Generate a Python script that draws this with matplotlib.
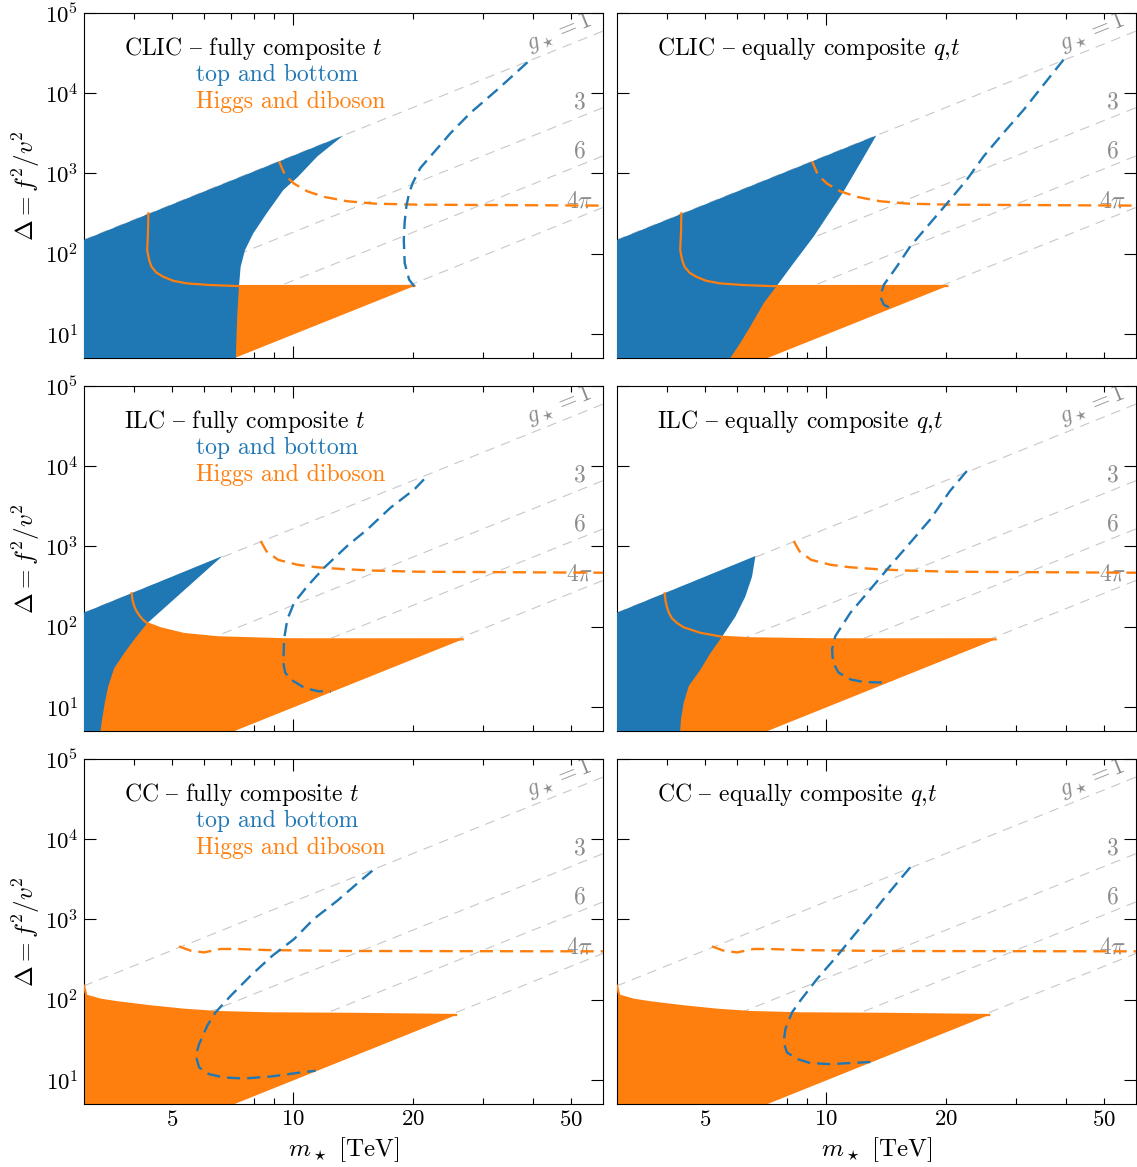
import numpy as np
import matplotlib
matplotlib.use('Agg')
import matplotlib.pyplot as plt
from matplotlib.ticker import FixedLocator, FuncFormatter, NullLocator

plt.rcParams['font.family'] = ['cmr10', 'DejaVu Serif']
plt.rcParams['mathtext.fontset'] = 'cm'
plt.rcParams['axes.formatter.use_mathtext'] = True
plt.rcParams['lines.scale_dashes'] = False

BLUE = '#1f77b4'
ORANGE = '#ff7f0e'
GRID_GREY = '#c8c8c8'
LABEL_GREY = '#8c8c8c'

# reference lines Delta = (m*/(g* v))^2
V_EW = 0.246  # TeV
G_STAR = [1, 3, 6, 4 * np.pi]

# ---- values, (m* [TeV], Delta) ----
# CLIC, fully composite t
CLIC_T_TB = [(2.5, 103), (13.4, 2968), (11.54, 1633), (10.3, 900), (9.48, 621),
             (8.61, 318), (7.97, 179), (7.60, 111), (7.41, 68.7), (7.34, 39.4),
             (7.27, 18.2), (7.22, 7.0), (7.2, 4.0), (2.5, 4.0)]
CLIC_HD_EDGE = [(4.35, 318), (4.34, 179), (4.32, 111), (4.37, 83), (4.43, 68.7),
                (4.56, 57.8), (4.74, 51.5), (5.02, 45.9), (5.43, 42.6), (6.21, 40.6),
                (7.31, 39.4), (20.2, 39.5)]
CLIC_HD_TAIL = [(6.4, 4.0), (2.5, 4.0), (2.5, 60)]
CLIC_T_TB_DASH = [(38.8, 24300), (32.6, 11070), (27.9, 5670), (24.9, 3190),
                  (22.2, 1650), (20.9, 1167), (20.0, 759), (19.6, 570), (19.3, 400),
                  (19.1, 250), (19.0, 149), (19.1, 76.4), (19.6, 47.3), (20.2, 39)]
CLIC_HD_DASH = [(9.25, 1414), (9.58, 946), (10.09, 745), (10.9, 597), (12.0, 510),
                (13.7, 450), (16.1, 420), (20.5, 408), (60.4, 397)]
# CLIC, equally composite q,t
CLIC_QT_TB = [(2.5, 103), (13.4, 2968), (12.22, 1348), (11.1, 597), (10.09, 292),
              (9.34, 164), (8.32, 76.4), (7.55, 39.8), (7.0, 24.2), (6.48, 12.4),
              (6.11, 7.67), (5.77, 4.99), (5.7, 4.0), (2.5, 4.0)]
CLIC_QT_TB_DASH = [(39.5, 26200), (35.2, 12770), (31.4, 6240), (27.9, 3190),
                   (24.9, 1633), (22.6, 836), (20.2, 428), (18.3, 241),
                   (16.3, 123), (15.1, 69.4), (14.0, 41), (13.7, 29.3),
                   (14.0, 23.1), (14.7, 20.4)]
# ILC, fully composite t
ILC_T_TB = [(2.5, 103), (6.67, 759), (4.32, 110), (4.0, 68.1), (3.78, 46.4),
            (3.57, 30.2), (3.45, 18.0), (3.38, 11.0), (3.33, 7.0), (3.30, 5.0),
            (3.29, 4.0), (2.5, 4.0)]
ILC_T_HD_EDGE = [(3.95, 260), (3.97, 215), (4.0, 186), (4.05, 160), (4.12, 140),
                 (4.21, 123), (4.32, 110), (4.67, 95.3), (5.34, 80.9), (6.48, 73.6),
                 (9.52, 69.5), (14.0, 69.3), (26.7, 69.5)]
ILC_HD_TAIL = [(6.4, 4.0), (2.5, 4.0), (2.5, 60)]
ILC_T_TB_DASH = [(21.35, 6860), (20.2, 5150), (17.6, 3040), (15.4, 1633),
                 (13.7, 1012), (12.0, 543), (10.9, 321), (10.09, 199), (9.7, 123),
                 (9.52, 69.4), (9.48, 35.5), (9.58, 26.7), (9.89, 22),
                 (10.7, 17.3), (11.54, 15.7), (12.46, 15.5)]
ILC_HD_DASH = [(8.32, 1167), (8.6, 870), (9.2, 680), (10.3, 590), (11.5, 550),
               (13.5, 520), (16.0, 500), (20.5, 484), (60.4, 470)]
# ILC, equally composite q,t
ILC_QT_TB = [(2.5, 103), (6.67, 759), (6.54, 419), (6.29, 236), (5.94, 133),
             (5.50, 74.8), (5.14, 46.4), (4.85, 28.8), (4.54, 18.2), (4.41, 11.3),
             (4.34, 7.0), (4.32, 5.0), (4.31, 4.0), (2.5, 4.0)]
ILC_QT_HD_EDGE = [(3.95, 260), (3.97, 210), (4.0, 177), (4.05, 148), (4.12, 127),
                  (4.25, 110), (4.41, 98), (4.85, 83.9), (5.50, 74.8), (6.48, 71.5),
                  (9.52, 69.5), (14.0, 69.3), (26.7, 69.5)]
ILC_QT_TB_DASH = [(22.6, 8710), (20.5, 4910), (18.3, 2175), (16.3, 1113),
                  (14.5, 570), (12.95, 292), (11.54, 149), (10.58, 76.4),
                  (10.38, 52), (10.44, 35.5), (10.78, 26.7), (11.54, 22),
                  (12.46, 20.4), (14.26, 20.0)]
# CC (both scenarios share the Higgs/diboson curves)
CC_HD_EDGE = [(3.0, 149), (3.04, 112), (3.3, 99.8), (3.64, 92.5), (4.41, 82.4),
              (5.34, 74.8), (6.48, 70), (8.64, 67.4), (13.98, 66.5), (25.7, 64.3)]
CC_HD_TAIL = [(6.4, 4.0), (2.5, 4.0), (2.5, 149)]
CC_HD_DASH = [(5.19, 461), (5.55, 408), (6.0, 388), (6.6, 428), (7.27, 428),
              (8.64, 415), (13.98, 404), (60.4, 400)]
CC_T_TB_DASH = [(15.85, 4050), (14.8, 3040), (12.95, 1714), (11.3, 1012),
                (10.09, 570), (8.90, 353), (7.85, 199), (7.0, 112), (6.41, 69.4),
                (6.11, 47.3), (5.83, 27.9), (5.72, 20.0), (5.83, 14.3),
                (6.17, 11.8), (6.73, 10.7), (7.55, 10.4), (8.81, 11.0),
                (10.28, 12.2), (11.42, 13.0)]
CC_QT_TB_DASH = [(16.3, 4460), (15.4, 3190), (13.98, 1795), (12.95, 1113),
                 (11.76, 627), (10.7, 353), (9.52, 181), (8.64, 97), (8.24, 69.4),
                 (7.93, 43), (7.85, 29.3), (8.0, 22), (8.48, 18.2), (9.16, 16.2),
                 (10.28, 15.7), (11.54, 16.2), (13.2, 16.8)]

# '{' is the en dash slot in the TeX-encoded cmr10 font
DASH = '{'
panels = [
    ('CLIC %s fully composite $t$' % DASH, True, CLIC_T_TB, CLIC_HD_EDGE, CLIC_HD_TAIL, CLIC_T_TB_DASH, CLIC_HD_DASH),
    ('CLIC %s equally composite $q$,$t$' % DASH, False, CLIC_QT_TB, CLIC_HD_EDGE, CLIC_HD_TAIL, CLIC_QT_TB_DASH, CLIC_HD_DASH),
    ('ILC %s fully composite $t$' % DASH, True, ILC_T_TB, ILC_T_HD_EDGE, ILC_HD_TAIL, ILC_T_TB_DASH, ILC_HD_DASH),
    ('ILC %s equally composite $q$,$t$' % DASH, False, ILC_QT_TB, ILC_QT_HD_EDGE, ILC_HD_TAIL, ILC_QT_TB_DASH, ILC_HD_DASH),
    ('CC %s fully composite $t$' % DASH, True, None, CC_HD_EDGE, CC_HD_TAIL, CC_T_TB_DASH, CC_HD_DASH),
    ('CC %s equally composite $q$,$t$' % DASH, False, None, CC_HD_EDGE, CC_HD_TAIL, CC_QT_TB_DASH, CC_HD_DASH),
]

W, H = 1137, 1167
fig = plt.figure(figsize=(W / 100, H / 100), dpi=100)

col_x = [84, 617]
row_top = [13, 386, 759]
pw, ph = 519, 345

dash_style = (0, (9.5, 5))
fs = 17

for i, (title, legend, tb, hd_edge, hd_tail, tb_dash, hd_dash) in enumerate(panels):
    r, c = divmod(i, 2)
    ax = fig.add_axes([col_x[c] / W, 1 - (row_top[r] + ph) / H, pw / W, ph / H])
    ax.set_xscale('log')
    ax.set_yscale('log')
    ax.set_xlim(3, 60)
    ax.set_ylim(5, 1e5)

    # g* lines
    mm = np.array([2.5, 70.0])
    for g in G_STAR:
        ax.plot(mm, (mm / (g * V_EW)) ** 2, color=GRID_GREY, lw=0.8,
                ls=(0, (7, 5)), zorder=1)
    ax.text(46.5, 57900, r'$g_\star = 1$', rotation=21.9, ha='center', va='center',
            color=LABEL_GREY, fontsize=fs, rotation_mode='anchor', zorder=1.5, clip_on=True)
    for lab, yy in [('$3$', 7770), ('$6$', 1900), (r'$4\pi$', 453)]:
        ax.text(52.3, yy, lab, ha='center', va='center', color=LABEL_GREY,
                fontsize=fs, zorder=1.5)

    # Higgs and diboson region
    poly = np.array(hd_edge + hd_tail)
    ax.fill(poly[:, 0], poly[:, 1], color=ORANGE, lw=0, zorder=2)
    # top and bottom region
    if tb is not None:
        p = np.array(tb)
        ax.fill(p[:, 0], p[:, 1], color=BLUE, lw=0, zorder=3)
    e = np.array(hd_edge)
    ax.plot(e[:, 0], e[:, 1], color=ORANGE, lw=1.6, zorder=4)

    d = np.array(hd_dash)
    ax.plot(d[:, 0], d[:, 1], color=ORANGE, lw=1.7, ls=dash_style, zorder=5)
    d = np.array(tb_dash)
    ax.plot(d[:, 0], d[:, 1], color=BLUE, lw=1.7, ls=dash_style, zorder=5)

    ax.text(0.077, 0.878, title, transform=ax.transAxes, fontsize=fs, va='baseline')
    if legend:
        ax.text(0.215, 0.803, 'top and bottom', color=BLUE, transform=ax.transAxes,
                fontsize=fs, va='baseline')
        ax.text(0.215, 0.725, 'Higgs and diboson', color=ORANGE, transform=ax.transAxes,
                fontsize=fs, va='baseline')

    # ticks
    ax.xaxis.set_major_locator(FixedLocator([10]))
    ax.xaxis.set_minor_locator(FixedLocator([4, 5, 6, 7, 8, 9, 20, 30, 40, 50]))
    ax.xaxis.set_major_formatter(FuncFormatter(lambda x, p: r'$10$'))
    ax.xaxis.set_minor_formatter(FuncFormatter(
        lambda x, p: r'$%d$' % round(x) if round(x) in (5, 20, 50) else ''))
    ax.yaxis.set_major_locator(FixedLocator([1e1, 1e2, 1e3, 1e4, 1e5]))
    ax.yaxis.set_minor_locator(NullLocator())
    ax.tick_params(which='both', direction='in', top=True, right=True,
                   labelsize=fs - 0.5, width=0.8)
    ax.tick_params(which='major', length=8.5, pad=4)
    ax.tick_params(which='minor', length=4.3, pad=4)
    for s in ax.spines.values():
        s.set_linewidth(0.8)
    if r < 2:
        ax.tick_params(which='both', labelbottom=False)
    else:
        ax.set_xlabel(r'$m_\star$ [TeV]', fontsize=fs + 1, labelpad=4)
    if c == 1:
        ax.tick_params(which='both', labelleft=False)
    else:
        ax.set_ylabel(r'$\Delta = f^2/v^2$', fontsize=fs + 1, labelpad=2)

fig.savefig('out.png', dpi=100)
